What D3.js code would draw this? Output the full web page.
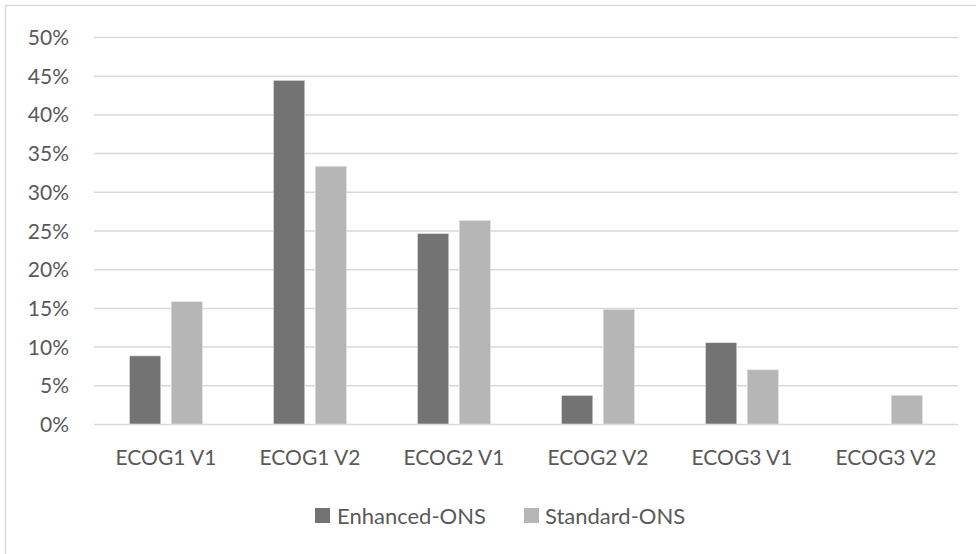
<!DOCTYPE html>
<html>
<head>
<meta charset="utf-8">
<script src="https://cdn.jsdelivr.net/npm/d3@7"></script>
<style>
  html, body { margin: 0; padding: 0; background: #ffffff; }
  svg { display: block; }
  text { font-family: Lato, "Open Sans", sans-serif; fill: #595959; }
</style>
</head>
<body>
<svg id="chart" width="976" height="554"></svg>
<script>
// ECOG groups and share of patients per group, by nursing arm
const categories = ["ECOG1 V1", "ECOG1 V2", "ECOG2 V1", "ECOG2 V2", "ECOG3 V1", "ECOG3 V2"];
const seriesNames = ["Enhanced-ONS", "Standard-ONS"];
const enhancedValues = [0.088, 0.444, 0.246, 0.037, 0.105, 0.0];
const standardValues = [0.158, 0.333, 0.263, 0.148, 0.070, 0.037];
const yTicks = [0, 0.05, 0.10, 0.15, 0.20, 0.25, 0.30, 0.35, 0.40, 0.45, 0.50];

const colors = ["#727372", "#b5b6b5"];
const seriesValues = [enhancedValues, standardValues];

const svg = d3.select("#chart");
const W = 976, H = 554;
const plot = { left: 94, right: 958, top: 37, bottom: 424 };

// chart area outline
svg.append("rect")
  .attr("x", 5.5).attr("y", 5.5)
  .attr("width", W + 10).attr("height", H + 10)
  .attr("fill", "none").attr("stroke", "#d9d9d9").attr("stroke-width", 1.5);

const x0 = d3.scaleBand().domain(categories).range([plot.left, plot.right]).paddingInner(0).paddingOuter(0);
const x1 = d3.scaleBand().domain(seriesNames).range([0, 73]).paddingInner(0.25);
const y = d3.scaleLinear().domain([0, 0.5]).range([plot.bottom, plot.top]);

// horizontal gridlines with percent labels
const yAxis = d3.axisLeft(y)
  .tickValues(yTicks)
  .tickSize(-(plot.right - plot.left))
  .tickPadding(25)
  .tickFormat(d3.format(".0%"));

const gy = svg.append("g")
  .attr("transform", `translate(${plot.left},0)`)
  .call(yAxis);
gy.select(".domain").remove();
gy.selectAll(".tick line").attr("stroke", "#d9d9d9").attr("stroke-width", 1.5);
gy.selectAll(".tick text")
  .attr("fill", "#595959")
  .style("font-size", "21px")
  .attr("dy", "0.36em");

// bars
const groups = svg.append("g").selectAll("g")
  .data(categories)
  .join("g")
  .attr("transform", d => `translate(${x0(d) + x0.bandwidth() / 2 - 36.5},0)`);

groups.selectAll("rect")
  .data((d, i) => seriesNames.map((s, k) => ({ s, v: seriesValues[k][i], k })))
  .join("rect")
  .filter(d => d.v > 0)
  .attr("x", d => x1(d.s))
  .attr("y", d => y(d.v))
  .attr("width", x1.bandwidth())
  .attr("height", d => y(0) - y(d.v))
  .attr("fill", d => colors[d.k])
  .attr("stroke", "#e4e4e4")
  .attr("stroke-width", 0.6);

// category labels
const xAxis = d3.axisBottom(x0).tickSize(0).tickPadding(26);
const gx = svg.append("g")
  .attr("transform", `translate(0,${plot.bottom})`)
  .call(xAxis);
gx.select(".domain").remove();
gx.selectAll(".tick text")
  .attr("fill", "#595959")
  .style("font-size", "21px");

// legend
const legend = svg.append("g");
const legendItems = [
  { name: seriesNames[0], color: colors[0], sx: 315, tx: 337 },
  { name: seriesNames[1], color: colors[1], sx: 524, tx: 545 }
];
legendItems.forEach(it => {
  legend.append("rect")
    .attr("x", it.sx).attr("y", 508)
    .attr("width", 15).attr("height", 15)
    .attr("fill", it.color);
  legend.append("text")
    .attr("x", it.tx).attr("y", 524)
    .style("font-size", "22px")
    .text(it.name);
});
</script>
</body>
</html>
